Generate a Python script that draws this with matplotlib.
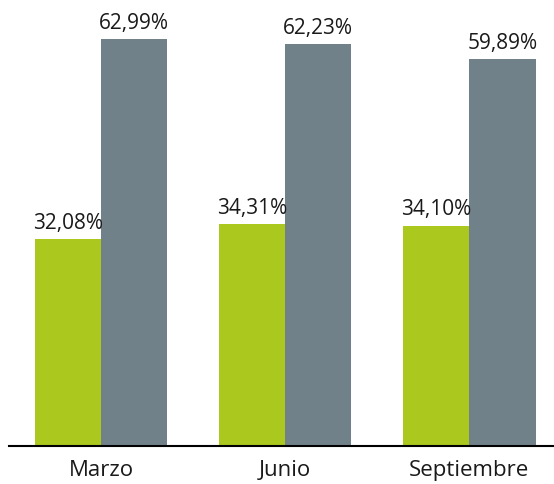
import matplotlib.pyplot as plt
import numpy as np

months = ['Marzo', 'Junio', 'Septiembre']
green_vals = [32.08, 34.31, 34.10]
gray_vals = [62.99, 62.23, 59.89]

plt.rcParams['font.family'] = ['Open Sans', 'DejaVu Sans']

fig = plt.figure(figsize=(5.54, 4.85), dpi=100)
ax = fig.add_axes([9 / 554, 38 / 485, 1 - 9 / 554, 447 / 485])

x = np.arange(len(months))
w = 0.36
b1 = ax.bar(x - w / 2, green_vals, w, color='#aac81e')
b2 = ax.bar(x + w / 2, gray_vals, w, color='#71818a')

for bars, vals in ((b1, green_vals), (b2, gray_vals)):
    for bar, v in zip(bars, vals):
        ax.annotate(f'{v:.2f}%'.replace('.', ','),
                    (bar.get_x() + bar.get_width() / 2, bar.get_height()),
                    xytext=(0, 4.5), textcoords='offset points',
                    ha='center', va='bottom', fontsize=15, color='#1a1a1a')

ax.set_xlim(-0.5, 2.46)
ax.set_ylim(0, 69.2)
ax.set_xticks(x)
ax.set_xticklabels(months, fontsize=16, color='#1a1a1a')
ax.tick_params(axis='x', length=0, pad=9.5)
ax.set_yticks([])
for s in ['top', 'right', 'left']:
    ax.spines[s].set_visible(False)
ax.spines['bottom'].set_linewidth(1.5)

fig.savefig('out.png', dpi=100)
